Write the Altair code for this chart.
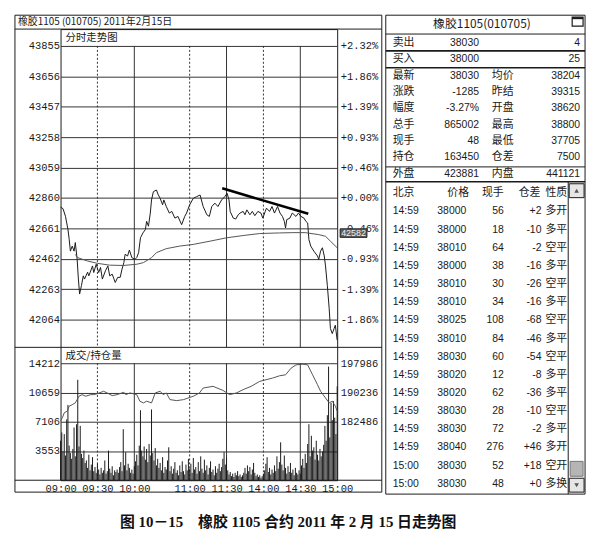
import altair as alt
import pandas as pd

# ---------------- data ----------------
price_min = [0, 2, 4, 6, 7, 8, 9.5, 11, 12, 13.5, 14.5, 15.5, 17, 18.5, 19.5, 22, 23, 26, 27, 29,
             31, 32.5, 34, 36.5, 38.5, 40, 42, 44.5, 46.5, 48.5, 50, 51.5, 52.5, 54.5, 56, 58, 60.5, 62, 63.5, 65,
             67, 69, 70, 71.5, 73, 74, 75.5, 78, 79.5, 81, 83, 84, 86, 88.5, 90.5, 93, 95.5, 98.5, 101, 102.5,
             105, 108, 110.5, 113.5, 116, 119, 121, 123, 125.5, 128, 131, 133.5, 135.5, 137, 138, 140.5, 142.5, 144.5, 146, 148.5,
             150, 151.5, 154, 156, 158, 160.5, 163, 164.5, 166.5, 167.5, 170, 172, 174, 176.5, 178.5, 180.5, 182, 183, 184, 186.5,
             188.5, 191.5, 193.5, 195.5, 198, 199.5, 201, 202, 203.5, 206, 209, 210, 211.5, 213, 214.5, 215.5, 217, 218.5, 219.5, 221,
             222.5, 223.5, 225]
price_val = [42800, 42790, 42740, 42655, 42590, 42512, 42545, 42512, 42568, 42458, 42330, 42231, 42286, 42350, 42329, 42374, 42350, 42415, 42372, 42426,
             42372, 42405, 42329, 42383, 42415, 42350, 42361, 42307, 42340, 42340, 42394, 42437, 42491, 42480, 42519, 42469, 42458, 42470, 42502, 42599,
             42631, 42653, 42707, 42675, 42761, 42847, 42901, 42912, 42880, 42858, 42815, 42847, 42804, 42761, 42772, 42728, 42739, 42685, 42739, 42761,
             42815, 42858, 42868, 42879, 42804, 42750, 42739, 42804, 42826, 42804, 42847, 42868, 42890, 42847, 42771, 42728, 42722, 42750, 42761, 42772,
             42750, 42782, 42750, 42772, 42744, 42772, 42761, 42728, 42772, 42793, 42772, 42804, 42761, 42804, 42761, 42739, 42707, 42664, 42718, 42728,
             42761, 42739, 42761, 42739, 42728, 42707, 42696, 42588, 42545, 42512, 42480, 42458, 42512, 42534, 42480, 42415, 42286, 42135, 42005, 41972,
             42005, 42027, 41929]

avg_min = [12, 14, 22, 30, 40, 51, 62, 67.5, 74, 78, 86, 97, 108, 121.5, 135, 148.5, 162, 178, 189, 199, 210, 215.5, 219.5, 225]
avg_val = [42490, 42469, 42447, 42432, 42420, 42418, 42426, 42437, 42469, 42502, 42528, 42545, 42556, 42577, 42599, 42614, 42627, 42631, 42633, 42633, 42620, 42609, 42577, 42534]

trend_min = [131.5, 201.5]
trend_val = [42923, 42756]

vol_val = [4800, 5800, 3500, 5600, 3000, 7400, 9150, 4200, 3300, 2600, 3800, 6400, 2900, 6800, 12200, 4100, 6600, 3200, 2700, 3600, 2100,
           2400, 1500, 3100, 1200, 1900, 2800, 1100, 1600, 900, 2000,
           1300, 700, 1500, 900, 1200, 2400, 800, 1100, 3600, 1400, 900, 1700, 600, 1200, 1000,
           1300, 900, 1600, 2200, 1100, 6200, 1800, 3400, 1200, 2000, 1500, 900, 1300, 800, 1700,
           2300, 3100, 1800, 4200, 8500, 3600, 2900, 4100, 2500, 3800, 2200, 4400, 3000, 8600, 3300, 2400, 3900, 1800, 2600, 1500,
           2100, 1200, 2800, 900, 1600, 1300, 2400, 4000, 1100, 1700, 800, 1400, 2200, 900, 1200, 600, 1800, 1000, 2300, 1100, 700, 1900, 1200, 2600, 1400,
           2000, 900, 2700, 1300, 1600, 800, 2200, 1100, 2900, 1400, 900, 2500, 1200, 1800, 700, 1500, 2300, 1000, 1300, 600, 1700, 900, 1400, 2000, 1100, 1600, 2600, 3400, 1900, 2800,
           1200, 700, 1000, 500, 800, 400, 900, 600, 1100, 500, 700, 400, 600, 900, 1500, 800, 1800, 1100, 1600, 700, 1300, 2100, 900, 500, 700, 400, 600, 300, 500, 800,
           1200, 2000, 2800, 1000, 1500, 700, 1300, 900, 1800, 1100, 2900, 1400, 2200, 4600, 1900, 1200, 3000, 1500, 800, 1700, 1000, 2100, 900, 1300, 600, 1500, 900, 700, 1200, 800,
           1800, 2600, 1500, 3200, 2100, 4400, 6800, 2900, 5400, 3600, 4000, 2500, 4800, 3100, 2400,
           3800, 2900, 3500, 4300, 6600, 4800, 7900, 13800, 5200, 9400, 7300, 9600, 7600, 5600, 11400]

oi_min = [0, 1.5, 3, 5.5, 7, 9.5, 12, 15, 17.5, 20.5, 24.5, 27, 30, 35, 38, 42, 46, 51.5, 53, 56.5,
          62, 64.5, 67.5, 70, 74, 77, 81, 83.5, 86, 89, 94.5, 100, 108, 113, 116, 124, 132, 137.5, 143, 148.5,
          155, 162, 167, 172.5, 178, 183, 187.5, 191.5, 197, 201, 205, 209, 211.5, 215.5, 218.5, 221, 223.5, 225]
oi_val = [182800, 183537, 184850, 185300, 186610, 187000, 187478, 189238, 189660, 189238, 189660, 189660, 189930, 190552, 190100, 189400, 189660, 190300, 189660, 190105,
          189660, 187925, 187478, 187925, 187478, 190105, 190552, 189660, 190105, 188345, 188080, 188345, 189238, 190105, 191418, 191864, 190800, 189660, 190105, 190990,
          191864, 193178, 193600, 194046, 194650, 194913, 196673, 197550, 197723, 197550, 194913, 192290, 190552, 188780, 187478, 187925, 186600, 185297]

price_ticks = [43855, 43656, 43457, 43258, 43059, 42860, 42661, 42462, 42263, 42064]
pct_base = 42860
vol_ticks = [3553, 7106, 10659, 14212]
oi_ticks = [182486, 190236, 197986]
time_ticks = [0, 30, 60, 105, 135, 165, 195, 225]
time_labels = ['09:00', '09:30', '10:00', '11:00', '11:30', '14:00', '14:30', '15:00']
solid_grid_min = [60, 135, 195]
dotted_grid_min = [30, 105, 165]
cursor_text = ['42582']
cursor_price = [42630]

left_title = ['橡胶1105 (010705) 2011年2月15日']
price_header = ['分时走势图']
vol_header = ['成交/持仓量']

quote_title = ['橡胶1105(010705)']
q_lab1 = ['卖出', '买入', '最新', '涨跌', '幅度', '总手', '现手', '持仓', '外盘']
q_val1 = ['38030', '38000', '38030', '-1285', '-3.27%', '865002', '48', '163450', '423881']
q_lab2 = ['', '', '均价', '昨结', '开盘', '最高', '最低', '仓差', '内盘']
q_val2 = ['4', '25', '38204', '39315', '38620', '38800', '37705', '7500', '441121']

t_head = ['北京', '价格', '现手', '仓差', '性质']
t_time = ['14:59'] * 14 + ['15:00'] * 2
t_price = ['38000', '38000', '38010', '38000', '38010', '38010', '38025', '38010', '38030', '38020', '38020', '38030', '38030', '38040', '38030', '38030']
t_vol = ['56', '18', '64', '38', '30', '34', '108', '84', '60', '12', '62', '28', '72', '276', '52', '48']
t_oi = ['+2', '-10', '-2', '-16', '-26', '-16', '-68', '-46', '-54', '-8', '-36', '-10', '-2', '+46', '+18', '+0']
t_kind = ['多开', '多平', '空平', '多平', '空平', '多平', '空平', '多平', '空平', '多平', '多平', '空平', '多平', '多开', '空开', '多换']

caption = '图 10－15　橡胶 1105 合约 2011 年 2 月 15 日走势图'

# ---------------- styling ----------------
MONO = "'Liberation Mono', 'DejaVu Sans Mono', monospace"
UI = "'Liberation Sans', 'Noto Sans CJK SC', sans-serif"
CJK = "'Noto Sans CJK SC', sans-serif"
INK = '#1a1a1a'
GRID = '#333333'

W, H = 279, 455
P_TOP, P_BOT = 17, 321
V_TOP, V_BOT = 337, 455

price_df = pd.DataFrame({'m': price_min, 'p': price_val})
avg_df = pd.DataFrame({'m': avg_min, 'p': avg_val})
trend_df = pd.DataFrame({'m': trend_min, 'p': trend_val})
vol_df = pd.DataFrame({'m': list(range(len(vol_val))), 'v': vol_val})
oi_df = pd.DataFrame({'m': oi_min, 'oi': oi_val})
solid_df = pd.DataFrame({'m': solid_grid_min})
dotted_df = pd.DataFrame({'m': dotted_grid_min})
cur_df = pd.DataFrame({'t': cursor_text, 'p': cursor_price})
cur_df['hi'] = cur_df['p'] + 28
cur_df['lo'] = cur_df['p'] - 28
one = pd.DataFrame({'k': [0]})

time_expr = ("[" + ",".join("'%s'" % s for s in time_labels) + "][indexof(["
             + ",".join(str(t) for t in time_ticks) + "], datum.value)]")
pct_expr = ("(datum.value >= %d ? '+' : '-') + format(abs(datum.value - %d) / %d * 100, '.2f') + '%%'"
            % (pct_base, pct_base, pct_base))

X = alt.X('m:Q', scale=alt.Scale(domain=[0, 225], nice=False, zero=False),
          axis=alt.Axis(values=time_ticks, labelExpr=time_expr, grid=False, ticks=False, domain=False,
                        title=None, labelFont=MONO, labelFontSize=10.5, labelPadding=3, labelColor=INK,
                        labelFlush=False, labelOverlap=False))

price_scale = alt.Scale(domain=[41882, 43855], range=[P_BOT, P_TOP], nice=False, zero=False)
vol_scale = alt.Scale(domain=[0, 14212], range=[V_BOT, V_TOP], nice=False, zero=False)
oi_scale = alt.Scale(domain=[166986, 197986], range=[V_BOT, V_TOP], nice=False, zero=False)


def yaxis(orient, values, grid, fmt=None, expr=None):
    kw = dict(orient=orient, values=values, grid=grid, ticks=False, domain=False, title=None,
              labelFont=MONO, labelFontSize=10.5, labelColor=INK, labelOverlap=False, labelFlush=False,
              labelPadding=1 if orient == 'left' else 3, gridColor=GRID, gridWidth=1)
    if fmt:
        kw['format'] = fmt
    if expr:
        kw['labelExpr'] = expr
    return alt.Axis(**kw)


price_line = alt.Chart(price_df).mark_line(color=INK, strokeWidth=1).encode(
    x=X, y=alt.Y('p:Q', scale=price_scale, axis=yaxis('left', price_ticks, True, fmt='d')))
avg_line = alt.Chart(avg_df).mark_line(color='#555555', strokeWidth=1).encode(
    x=X, y=alt.Y('p:Q', scale=price_scale, axis=yaxis('right', price_ticks, False, expr=pct_expr)))
trend_line = alt.Chart(trend_df).mark_line(color='#000000', strokeWidth=2.6).encode(
    x=X, y=alt.Y('p:Q', scale=price_scale, axis=None))
vol_bars = alt.Chart(vol_df).mark_rule(color=INK, strokeWidth=1).encode(
    x=X, y=alt.Y('v:Q', scale=vol_scale, axis=yaxis('left', vol_ticks, True, fmt='d')), y2=alt.datum(0))
oi_line = alt.Chart(oi_df).mark_line(color='#555555', strokeWidth=1).encode(
    x=X, y=alt.Y('oi:Q', scale=oi_scale, axis=yaxis('right', oi_ticks, False, fmt='d')))


def vlines(df, top, bot, dash):
    kw = dict(color=GRID, strokeWidth=1)
    if dash:
        kw['strokeDash'] = [2, 2]
    return alt.Chart(df).mark_rule(**kw).encode(x=X, y=alt.value(top), y2=alt.value(bot))


def hrule(y, x1=-46, x2=324, w=1):
    return alt.Chart(one).mark_rule(color=INK, strokeWidth=w, clip=False).encode(
        x=alt.value(x1), x2=alt.value(x2), y=alt.value(y))


frame = alt.Chart(one).mark_rect(fillOpacity=0, stroke=INK, strokeWidth=1, clip=False).encode(
    x=alt.value(-46), x2=alt.value(324), y=alt.value(-14), y2=alt.value(467))

title_txt = alt.Chart(pd.DataFrame({'t': left_title})).mark_text(
    align='left', baseline='middle', font=CJK, fontSize=10, color=INK, clip=False).encode(
    x=alt.value(-43), y=alt.value(-7), text='t:N')
ph_txt = alt.Chart(pd.DataFrame({'t': price_header})).mark_text(
    align='left', baseline='middle', font=CJK, fontSize=10.5, color=INK).encode(
    x=alt.value(5), y=alt.value(9), text='t:N')
vh_txt = alt.Chart(pd.DataFrame({'t': vol_header})).mark_text(
    align='left', baseline='middle', font=CJK, fontSize=10.5, color=INK).encode(
    x=alt.value(5), y=alt.value(330), text='t:N')

cur_box = alt.Chart(cur_df).mark_rect(fill='#5e5e5e', stroke='#222222', strokeWidth=1, clip=False).encode(
    x=alt.value(282), x2=alt.value(309),
    y=alt.Y('hi:Q', scale=price_scale, axis=None), y2='lo:Q')
cur_txt = alt.Chart(cur_df).mark_text(align='center', baseline='middle', font=UI, fontSize=9,
                                      color='#f0f0f0', clip=False).encode(
    x=alt.value(295.5), y=alt.Y('p:Q', scale=price_scale, axis=None), text='t:N')

left = alt.layer(
    vlines(solid_df, P_TOP, P_BOT, False), vlines(dotted_df, P_TOP, P_BOT, True),
    vlines(solid_df, V_TOP, V_BOT, False), vlines(dotted_df, V_TOP, V_BOT, True),
    price_line, avg_line, trend_line, vol_bars, oi_line,
    frame, hrule(0), hrule(P_BOT), hrule(V_BOT),
    title_txt, ph_txt, vh_txt, cur_box, cur_txt,
).resolve_scale(y='independent').properties(width=W, height=H)

# ---------------- quote table ----------------
# the table's drawing origin sits level with the left plot (14 px below the frames' top)
TW = 201
T0 = -14           # top edge of the table frame
TB = 469           # bottom edge of the table frame
q_df = pd.DataFrame({'i': list(range(len(q_lab1))), 'l1': q_lab1, 'v1': q_val1, 'l2': q_lab2, 'v2': q_val2})
t_df = pd.DataFrame({'i': list(range(1, len(t_time) + 1)), 'a': t_time, 'b': t_price, 'c': t_vol,
                     'd': t_oi, 'e': t_kind})
h_df = pd.DataFrame({'i': [0] * 5, 't': t_head, 'col': list(range(5))})

q_scale = alt.Scale(domain=[0, 8], range=[28 + T0, 160 + T0], nice=False, zero=False)
t_scale = alt.Scale(domain=[0, 16], range=[179.7 + T0, 472.5 + T0], nice=False, zero=False)


def col(df, field, x, align, scale, size=10.5):
    return alt.Chart(df).mark_text(align=align, baseline='middle', font=UI, fontSize=size, color=INK,
                                   clip=False).encode(
        x=alt.value(x), y=alt.Y('i:Q', scale=scale, axis=None), text=field + ':N')


def thr(y, x1=0, x2=TW, w=1):
    return alt.Chart(one).mark_rule(color=INK, strokeWidth=w, clip=False).encode(
        x=alt.value(x1), x2=alt.value(x2), y=alt.value(y + T0))


def trect(x1, x2, y1, y2, **kw):
    return alt.Chart(one).mark_rect(clip=False, **kw).encode(
        x=alt.value(x1), x2=alt.value(x2), y=alt.value(y1 + T0), y2=alt.value(y2 + T0))


head_layers = []
head_x = [7, 62, 97, 134, 161]
for k in range(5):
    head_layers.append(col(h_df[h_df['col'] == k], 't', head_x[k], 'left', t_scale, 11))

t_frame = trect(0, TW, 0, TB - T0, fillOpacity=0, stroke=INK, strokeWidth=1)
q_title = alt.Chart(pd.DataFrame({'t': quote_title})).mark_text(
    align='center', baseline='middle', font=CJK, fontSize=12, color=INK, clip=False).encode(
    x=alt.value(97), y=alt.value(9 + T0), text='t:N')
icon = trect(188, 199, 2, 11, fillOpacity=0, stroke=INK, strokeWidth=1.2)
icon_bar = thr(3, 188, 199, 2)

scroll_line = alt.Chart(one).mark_rule(color=INK, strokeWidth=1, clip=False).encode(
    x=alt.value(184), y=alt.value(168 + T0), y2=alt.value(TB))
scroll_up = trect(185, 200, 170, 184, fill='#e6e6e6', stroke=INK, strokeWidth=1)
scroll_dn = trect(185, 200, 467, 481, fill='#e6e6e6', stroke=INK, strokeWidth=1)
scroll_thumb = trect(186, 199, 450, 465, fill='#b5b5b5', stroke='#777777', strokeWidth=1)
arr_up = alt.Chart(one).mark_point(shape='triangle-up', filled=True, color=INK, size=22, clip=False).encode(
    x=alt.value(192.5), y=alt.value(177 + T0))
arr_dn = alt.Chart(one).mark_point(shape='triangle-down', filled=True, color=INK, size=22, clip=False).encode(
    x=alt.value(192.5), y=alt.value(474 + T0))

right = alt.layer(
    t_frame, q_title, icon, icon_bar,
    thr(19), thr(36, w=1.6), thr(53, w=1.6), thr(153), thr(168, w=1.4),
    col(q_df, 'l1', 7, 'left', q_scale, 11), col(q_df, 'v1', 94, 'right', q_scale),
    col(q_df, 'l2', 107, 'left', q_scale, 11), col(q_df, 'v2', 196, 'right', q_scale),
    *head_layers,
    col(t_df, 'a', 7, 'left', t_scale), col(t_df, 'b', 52, 'left', t_scale),
    col(t_df, 'c', 119, 'right', t_scale), col(t_df, 'd', 157, 'right', t_scale),
    col(t_df, 'e', 161, 'left', t_scale, 11),
    scroll_line, scroll_up, scroll_dn, scroll_thumb, arr_up, arr_dn,
).resolve_scale(y='independent').properties(
    width=TW, height=TB, view=alt.ViewBackground(stroke='transparent'))

chart = alt.hconcat(left, right, spacing=1).properties(
    title=alt.TitleParams(caption, orient='bottom', anchor='middle', fontSize=15,
                          font="'Liberation Serif', 'Noto Sans CJK SC', serif", fontWeight='bold',
                          color='#111111', offset=20, dx=-12),
    padding={'left': 6, 'top': 4, 'right': 5, 'bottom': 5},
).configure_view(stroke=INK, strokeWidth=1)

chart.save('out.html', embed_options={'renderer': 'svg', 'actions': False})
